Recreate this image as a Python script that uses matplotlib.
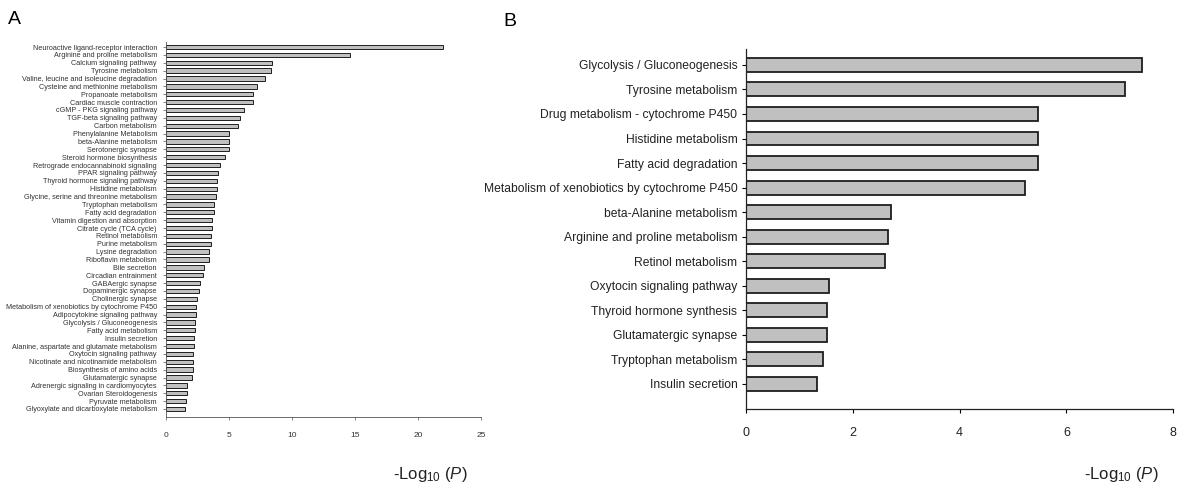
import matplotlib
matplotlib.use("Agg")
import matplotlib.pyplot as plt

plt.rcParams['font.family'] = ['Liberation Sans', 'DejaVu Sans']
plt.rcParams['mathtext.fontset'] = 'custom'
plt.rcParams['mathtext.rm'] = 'Liberation Sans'
plt.rcParams['mathtext.it'] = 'Liberation Sans:italic'

# Panel A data
a_labels = [
    "Neuroactive ligand-receptor interaction",
    "Arginine and proline metabolism",
    "Calcium signaling pathway",
    "Tyrosine metabolism",
    "Valine, leucine and isoleucine degradation",
    "Cysteine and methionine metabolism",
    "Propanoate metabolism",
    "Cardiac muscle contraction",
    "cGMP - PKG signaling pathway",
    "TGF-beta signaling pathway",
    "Carbon metabolism",
    "Phenylalanine Metabolism",
    "beta-Alanine metabolism",
    "Serotonergic synapse",
    "Steroid hormone biosynthesis",
    "Retrograde endocannabinoid signaling",
    "PPAR signaling pathway",
    "Thyroid hormone signaling pathway",
    "Histidine metabolism",
    "Glycine, serine and threonine metabolism",
    "Tryptophan metabolism",
    "Fatty acid degradation",
    "Vitamin digestion and absorption",
    "Citrate cycle (TCA cycle)",
    "Retinol metabolism",
    "Purine metabolism",
    "Lysine degradation",
    "Riboflavin metabolism",
    "Bile secretion",
    "Circadian entrainment",
    "GABAergic synapse",
    "Dopaminergic synapse",
    "Cholinergic synapse",
    "Metabolism of xenobiotics by cytochrome P450",
    "Adipocytokine signaling pathway",
    "Glycolysis / Gluconeogenesis",
    "Fatty acid metabolism",
    "Insulin secretion",
    "Alanine, aspartate and glutamate metabolism",
    "Oxytocin signaling pathway",
    "Nicotinate and nicotinamide metabolism",
    "Biosynthesis of amino acids",
    "Glutamatergic synapse",
    "Adrenergic signaling in cardiomyocytes",
    "Ovarian Steroidogenesis",
    "Pyruvate metabolism",
    "Glyoxylate and dicarboxylate metabolism",
]
a_values = [
    22.0, 14.64, 8.38, 8.33, 7.82, 7.19, 6.92, 6.87, 6.23, 5.84, 5.70,
    4.99, 4.99, 4.99, 4.67, 4.30, 4.14, 4.02, 4.03, 3.95, 3.79, 3.77,
    3.69, 3.66, 3.58, 3.58, 3.42, 3.40, 3.00, 2.94, 2.71, 2.60, 2.49,
    2.41, 2.36, 2.31, 2.28, 2.25, 2.23, 2.18, 2.18, 2.18, 2.04, 1.64,
    1.64, 1.59, 1.51,
]
a_xticks = [0, 5, 10, 15, 20, 25]

# Panel B data
b_labels = [
    "Glycolysis / Gluconeogenesis",
    "Tyrosine metabolism",
    "Drug metabolism - cytochrome P450",
    "Histidine metabolism",
    "Fatty acid degradation",
    "Metabolism of xenobiotics by cytochrome P450",
    "beta-Alanine metabolism",
    "Arginine and proline metabolism",
    "Retinol metabolism",
    "Oxytocin signaling pathway",
    "Thyroid hormone synthesis",
    "Glutamatergic synapse",
    "Tryptophan metabolism",
    "Insulin secretion",
]
b_values = [7.42, 7.10, 5.46, 5.46, 5.46, 5.23, 2.71, 2.67, 2.61, 1.56,
            1.53, 1.53, 1.44, 1.33]
b_xticks = [0, 2, 4, 6, 8]

W, H = 1184, 491
fig = plt.figure(figsize=(W / 100, H / 100), dpi=100)

def frac_box(x0, y0, x1, y1):
    return [x0 / W, 1 - y1 / H, (x1 - x0) / W, (y1 - y0) / H]

bar_face = '#c0c0c0'
bar_edge = '#1e1e1e'

# Panel A
axA = fig.add_axes(frac_box(166, 42, 481, 417))
posA = list(range(len(a_values)))
axA.barh(posA, a_values, height=0.55, color=bar_face, edgecolor=bar_edge, linewidth=0.7)
axA.set_yticks(posA)
axA.set_yticklabels(a_labels, fontsize=5.2, color='#333333')
axA.set_ylim(len(a_values) - 1 + 1.02, -0.64)
axA.set_xlim(0, 25)
axA.set_xticks(a_xticks)
axA.set_xticklabels([str(t) for t in a_xticks], fontsize=6, color='#333333')
for s in ['top', 'right']:
    axA.spines[s].set_visible(False)
for s in ['left', 'bottom']:
    axA.spines[s].set_linewidth(0.6)
    axA.spines[s].set_color('#555555')
axA.tick_params(axis='y', length=2.5, width=0.5, pad=4, colors='#555555', labelcolor='#333333')
axA.tick_params(axis='x', length=2.5, width=0.5, pad=8, colors='#555555', labelcolor='#333333')

# Panel B
axB = fig.add_axes(frac_box(745.7, 49, 1173.3, 409))
posB = list(range(len(b_values)))
axB.barh(posB, b_values, height=0.57, color=bar_face, edgecolor=bar_edge, linewidth=1.3)
axB.set_yticks(posB)
axB.set_yticklabels(b_labels, fontsize=8.7, color='#222222')
axB.set_ylim(len(b_values) - 1 + 1.03, -0.65)
axB.set_xlim(0, 8)
axB.set_xticks(b_xticks)
axB.set_xticklabels([str(t) for t in b_xticks], fontsize=9, color='#222222')
for s in ['top', 'right']:
    axB.spines[s].set_visible(False)
for s in ['left', 'bottom']:
    axB.spines[s].set_linewidth(0.9)
    axB.spines[s].set_color('#222222')
axB.tick_params(axis='y', length=3, width=0.8, pad=3)
axB.tick_params(axis='x', length=3, width=0.8, pad=10)

# Axis titles and panel letters
xlab = r'-Log$_{10}$ ($\mathit{P}$)'
fig.text(430 / W, 1 - 475 / H, xlab, fontsize=12, ha='center', va='center', color='#222222')
fig.text(1121 / W, 1 - 475 / H, xlab, fontsize=12, ha='center', va='center', color='#222222')
fig.text(14 / W, 1 - 19 / H, 'A', fontsize=14, ha='center', va='center')
fig.text(510 / W, 1 - 21 / H, 'B', fontsize=14, ha='center', va='center')

fig.savefig('out.png', dpi=100)
